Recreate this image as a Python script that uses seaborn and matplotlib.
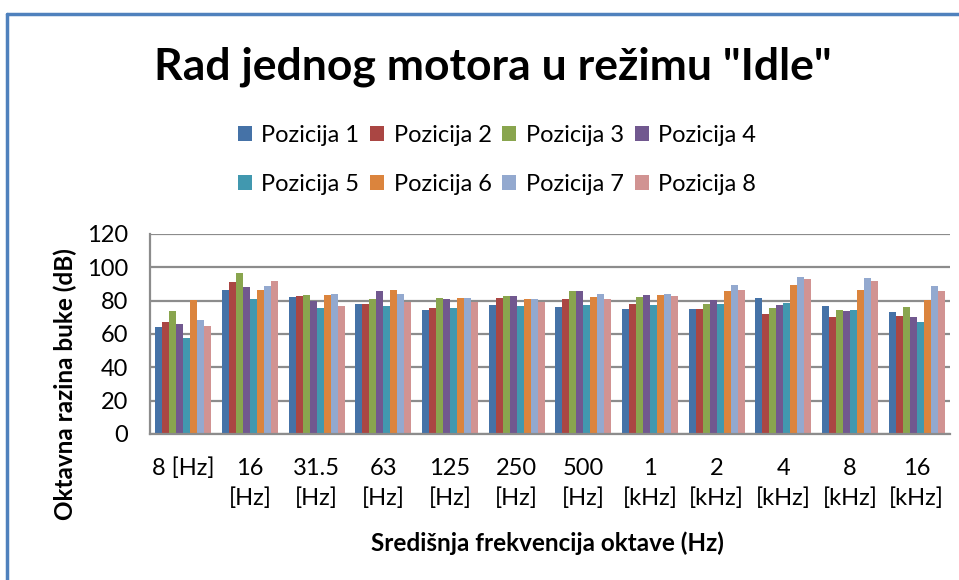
import matplotlib
matplotlib.use("Agg")
import matplotlib.pyplot as plt
import seaborn as sns
import pandas as pd
from matplotlib.lines import Line2D

categories = ["8 [Hz]", "16\n[Hz]", "31.5\n[Hz]", "63\n[Hz]", "125\n[Hz]", "250\n[Hz]",
              "500\n[Hz]", "1\n[kHz]", "2\n[kHz]", "4\n[kHz]", "8\n[kHz]", "16\n[kHz]"]
series_names = ["Pozicija 1", "Pozicija 2", "Pozicija 3", "Pozicija 4",
                "Pozicija 5", "Pozicija 6", "Pozicija 7", "Pozicija 8"]
pozicija_1 = [64.0, 86.6, 82.4, 77.8, 74.2, 77.4, 76.4, 75.2, 75.2, 81.6, 77.0, 73.0]
pozicija_2 = [67.0, 91.2, 82.6, 77.8, 75.4, 81.6, 81.2, 78.2, 74.8, 72.2, 70.2, 70.8]
pozicija_3 = [73.8, 96.6, 83.2, 81.0, 81.4, 82.8, 86.0, 82.2, 78.0, 75.8, 74.4, 76.0]
pozicija_4 = [66.2, 88.0, 79.8, 85.6, 81.2, 82.8, 85.6, 83.6, 80.2, 77.4, 73.8, 70.2]
pozicija_5 = [57.6, 80.8, 75.4, 77.0, 75.8, 76.6, 77.2, 77.4, 78.0, 78.8, 74.2, 67.4]
pozicija_6 = [80.2, 86.6, 83.4, 86.4, 81.8, 81.0, 82.2, 83.4, 86.0, 89.6, 86.2, 80.2]
pozicija_7 = [68.6, 88.8, 84.0, 84.2, 81.4, 81.0, 84.0, 84.0, 89.6, 94.0, 93.8, 88.6]
pozicija_8 = [64.8, 92.0, 77.0, 79.2, 79.0, 79.0, 81.0, 82.8, 86.4, 92.8, 91.6, 85.8]
y_ticks = [0, 20, 40, 60, 80, 100, 120]

all_series = [pozicija_1, pozicija_2, pozicija_3, pozicija_4,
              pozicija_5, pozicija_6, pozicija_7, pozicija_8]
rows = []
for name, vals in zip(series_names, all_series):
    for cat, v in zip(categories, vals):
        rows.append({"cat": cat, "series": name, "value": v})
df = pd.DataFrame(rows)

colors = ["#4572A7", "#AA4643", "#89A54E", "#71588F",
          "#4198AF", "#DB843D", "#93A9CF", "#D19392"]

sns.set_style("white")
plt.rcParams["font.family"] = ["Lato", "DejaVu Sans"]
plt.rcParams["text.color"] = "black"
plt.rcParams["axes.labelcolor"] = "black"
plt.rcParams["xtick.labelcolor"] = "black"
plt.rcParams["ytick.labelcolor"] = "black"

fig = plt.figure(figsize=(9.59, 5.8), dpi=100)
ax = fig.add_axes([150/959, 1-434/580, 800/959, 200/580])

sns.barplot(data=df, x="cat", y="value", hue="series", order=categories,
            hue_order=series_names, palette=colors, width=0.84, gap=0,
            ax=ax, legend=True, saturation=1)
for p in ax.patches:
    p.set_edgecolor("none")

ax.set_ylim(0, 120)
ax.set_yticks(y_ticks)
ax.set_xlim(-0.5, len(categories)-0.5)
ax.yaxis.grid(True, color="#8C8C8C", linewidth=1.6)
ax.set_axisbelow(True)
for s in ["top", "right"]:
    ax.spines[s].set_visible(False)
for s in ["left", "bottom"]:
    ax.spines[s].set_color("#8C8C8C")
    ax.spines[s].set_linewidth(1.6)
ax.tick_params(axis="y", direction="out", length=6, width=1.6, color="#8C8C8C",
               labelsize=17, pad=10)
ax.tick_params(axis="x", length=0, labelsize=17, pad=17)
for lbl in ax.get_xticklabels():
    lbl.set_linespacing(1.52)
    lbl.set_verticalalignment("top")

ax.set_xlabel("Središnja frekvencija oktave (Hz)", fontsize=17.5, fontweight="bold", va="center")
ax.set_ylabel("Oktavna razina buke (dB)", fontsize=17.5, fontweight="bold", va="center")
ax.xaxis.set_label_coords(0.5 - 3/800, (434-543)/200)
ax.yaxis.set_label_coords((65-150)/800, 0.5 - 50/200)

handles, labels = ax.get_legend_handles_labels()
ax.get_legend().remove()
order = [0, 4, 1, 5, 2, 6, 3, 7]
fig.legend([handles[i] for i in order], [labels[i] for i in order], ncol=4, loc="center",
           bbox_to_anchor=(497/959, 1-160/580),
           frameon=False, fontsize=17, handlelength=0.6, handleheight=0.6,
           handletextpad=0.4, columnspacing=0.45, labelspacing=1.2)

fig.text(493/959, 1-67/580, 'Rad jednog motora u režimu "Idle"', ha="center", va="center",
         fontsize=32, fontweight="bold")

fig.add_artist(Line2D([7/959, 7/959], [0, 1-14/580], color="#4F81BD", linewidth=2.5,
                      transform=fig.transFigure))
fig.add_artist(Line2D([7/959, 1], [1-14/580, 1-14/580], color="#4F81BD", linewidth=2.5,
                      transform=fig.transFigure))

fig.savefig("out.png", dpi=100)
